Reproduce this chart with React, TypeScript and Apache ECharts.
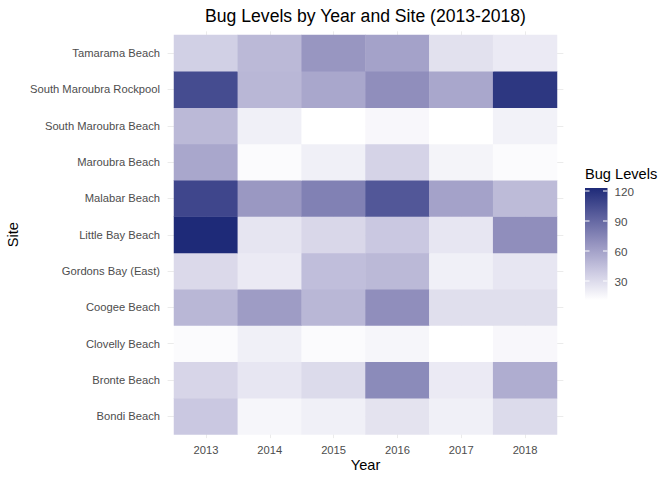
import React, { useEffect, useRef } from "react";
import * as echarts from "echarts";

const years = ["2013", "2014", "2015", "2016", "2017", "2018"];
// bottom-to-top order
const sites = [
  "Bondi Beach",
  "Bronte Beach",
  "Clovelly Beach",
  "Coogee Beach",
  "Gordons Bay (East)",
  "Little Bay Beach",
  "Malabar Beach",
  "Maroubra Beach",
  "South Maroubra Beach",
  "South Maroubra Rockpool",
  "Tamarama Beach",
];

const bondi = [40, 16, 19, 26, 19, 30];
const bronte = [33, 24, 30, 72, 22, 54];
const clovelly = [13, 19, 13, 16, 11, 15];
const coogee = [49, 63, 49, 70, 28, 28];
const gordonsBay = [31, 22, 45, 48, 19, 24];
const littleBay = [123, 25, 32, 40, 24, 70];
const malabar = [108, 65, 77, 99, 60, 47];
const maroubra = [57, 13, 19, 34, 17, 13];
const southMaroubra = [48, 19, 11, 15, 11, 18];
const southMaroubraRockpool = [105, 49, 57, 70, 57, 116];
const tamarama = [36, 48, 66, 60, 27, 22];

const siteValues = [
  bondi,
  bronte,
  clovelly,
  coogee,
  gordonsBay,
  littleBay,
  malabar,
  maroubra,
  southMaroubra,
  southMaroubraRockpool,
  tamarama,
];

const legendTicks = [30, 60, 90, 120];

// evenly spaced colour stops, low -> high (Lab-like white -> navy)
const colorStops = ["#ffffff", "#cccae2", "#9694c0", "#5b5f9d", "#1e2a78"];
const FONT = "Liberation Sans, Arial, Helvetica, sans-serif";

export default function App() {
  const ref = useRef<HTMLDivElement>(null);

  useEffect(() => {
    if (!ref.current) return;
    const chart = echarts.init(ref.current, null, { renderer: "svg" });

    const data: number[][] = [];
    siteValues.forEach((row, si) => {
      row.forEach((v, yi) => data.push([yi, si, v]));
    });
    const all = siteValues.flat();
    const vmin = Math.min(...all);
    const vmax = Math.max(...all);

    // tile area
    const tileL = 174,
      tileR = 557,
      tileT = 35,
      tileB = 434.5;
    const colW = (tileR - tileL) / years.length;
    const rowH = (tileB - tileT) / sites.length;
    const expX = colW * 0.1;
    const expY = rowH * 0.1;

    // legend bar
    const barX = 585,
      barW = 22.5,
      barTop = 188,
      barBot = 300;
    const valToY = (v: number) =>
      barBot - ((v - vmin) / (vmax - vmin)) * (barBot - barTop);

    const n = colorStops.length;
    const legendGraphics: any[] = [
      {
        type: "rect",
        shape: { x: barX, y: barTop, width: barW, height: barBot - barTop },
        style: {
          fill: new echarts.graphic.LinearGradient(
            0,
            0,
            0,
            1,
            colorStops
              .map((c, i) => ({ offset: 1 - i / (n - 1), color: c }))
              .reverse()
          ),
        },
      },
      {
        type: "text",
        left: barX,
        top: 166,
        style: {
          text: "Bug Levels",
          font: `14.6px ${FONT}`,
          fill: "#000000",
        },
      },
    ];
    legendTicks.forEach((t) => {
      const y = valToY(t);
      legendGraphics.push(
        {
          type: "line",
          shape: { x1: barX, y1: y, x2: barX + barW / 5, y2: y },
          style: { stroke: "#ffffff", lineWidth: 1 },
        },
        {
          type: "line",
          shape: { x1: barX + barW - barW / 5, y1: y, x2: barX + barW, y2: y },
          style: { stroke: "#ffffff", lineWidth: 1 },
        },
        {
          type: "text",
          x: barX + barW + 7,
          y: y,
          style: {
            text: String(t),
            font: `11.7px ${FONT}`,
            fill: "#4d4d4d",
            verticalAlign: "middle",
            align: "left",
          },
        }
      );
    });

    const gridLineStyle = { color: "#ebebeb", width: 1 };

    chart.setOption({
      animation: false,
      backgroundColor: "#ffffff",
      grid: [
        {
          left: tileL,
          top: tileT,
          width: tileR - tileL,
          height: tileB - tileT,
          containLabel: false,
        },
        // vertical grid lines
        {
          left: tileL + colW / 2,
          width: tileR - tileL - colW,
          top: tileT - expY,
          height: tileB - tileT + 2 * expY,
        },
        // horizontal grid lines
        {
          left: tileL - expX,
          width: tileR - tileL + 2 * expX,
          top: tileT + rowH / 2,
          height: tileB - tileT - rowH,
        },
      ],
      xAxis: [
        {
          type: "category",
          gridIndex: 0,
          data: years,
          axisLine: { show: false },
          axisTick: { show: false },
          splitLine: { show: false },
          axisLabel: {
            color: "#4d4d4d",
            fontSize: 11.2,
            fontFamily: FONT,
            margin: 10,
          },
        },
        {
          type: "category",
          gridIndex: 1,
          data: years,
          boundaryGap: false,
          axisLine: { show: false },
          axisTick: { show: false },
          axisLabel: { show: false },
          splitLine: { show: true, lineStyle: gridLineStyle },
        },
        {
          type: "category",
          gridIndex: 2,
          data: years,
          axisLine: { show: false },
          axisTick: { show: false },
          axisLabel: { show: false },
          splitLine: { show: false },
        },
      ],
      yAxis: [
        {
          type: "category",
          gridIndex: 0,
          data: sites,
          axisLine: { show: false },
          axisTick: { show: false },
          splitLine: { show: false },
          axisLabel: {
            color: "#4d4d4d",
            fontSize: 11.2,
            fontFamily: FONT,
            margin: 14,
          },
        },
        {
          type: "category",
          gridIndex: 1,
          data: sites,
          axisLine: { show: false },
          axisTick: { show: false },
          axisLabel: { show: false },
          splitLine: { show: false },
        },
        {
          type: "category",
          gridIndex: 2,
          data: sites,
          boundaryGap: false,
          axisLine: { show: false },
          axisTick: { show: false },
          axisLabel: { show: false },
          splitLine: { show: true, lineStyle: gridLineStyle },
        },
      ],
      visualMap: {
        type: "continuous",
        show: false,
        min: vmin,
        max: vmax,
        dimension: 2,
        seriesIndex: 0,
        inRange: { color: colorStops },
      },
      series: [
        {
          type: "heatmap",
          xAxisIndex: 0,
          yAxisIndex: 0,
          data,
          z: 5,
          itemStyle: { borderWidth: 0 },
          emphasis: { disabled: true },
          label: { show: false },
        },
      ],
      graphic: [
        {
          type: "text",
          x: (tileL - expX + tileR + expX) / 2,
          y: 16,
          style: {
            text: "Bug Levels by Year and Site (2013-2018)",
            font: `17.6px ${FONT}`,
            fill: "#000000",
            align: "center",
            verticalAlign: "middle",
          },
        },
        {
          type: "text",
          x: (tileL - expX + tileR + expX) / 2,
          y: 465,
          style: {
            text: "Year",
            font: `14.6px ${FONT}`,
            fill: "#000000",
            align: "center",
            verticalAlign: "middle",
          },
        },
        {
          type: "text",
          x: 13,
          y: (tileT - expY + tileB + expY) / 2,
          rotation: Math.PI / 2,
          style: {
            text: "Site",
            font: `14.6px ${FONT}`,
            fill: "#000000",
            align: "center",
            verticalAlign: "middle",
          },
        },
        ...legendGraphics,
      ],
    });

    return () => chart.dispose();
  }, []);

  return (
    <div
      ref={ref}
      style={{ position: "fixed", left: 0, top: 0, width: 672, height: 480 }}
    />
  );
}
